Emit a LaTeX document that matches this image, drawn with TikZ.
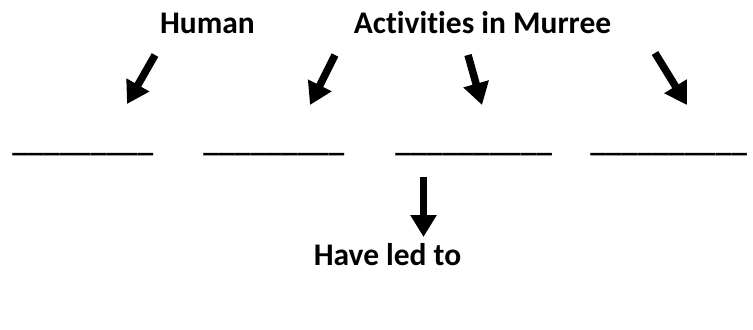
\documentclass[tikz,border=0pt]{standalone}
\usepackage{fontspec}
\setmainfont{Carlito}[Ligatures=NoCommon]
\usetikzlibrary{arrows.meta}
\tikzset{every picture/.style={font issue=\fontsize{17.9pt}{21pt}\bfseries},
         font issue/.style={execute at begin picture={#1\selectfont}},
         heading/.style={anchor=base, inner sep=0pt},
         blank/.style={anchor=base west, inner sep=0pt},
         fat arrow/.style={line width=0.15cm, -{Triangle[width=0.5cm, length=0.44cm]}}
}
\begin{document}
\begin{tikzpicture}[x=0.02cm, y=-0.02cm]
        \useasboundingbox (0, 0) rectangle (753, 329);
        \node [heading] (human) at (207.5, 33) {Human};
        \node [heading] (activities) at (482.5, 33) {Activities in Murree};
        \node [blank] (blank1) at (12, 151) {\_\_\_\_\_\_\_\_\_};
        \node [blank] (blank2) at (203, 151) {\_\_\_\_\_\_\_\_\_};
        \node [blank] (blank3) at (395, 151) {\_\_\_\_\_\_\_\_\_\_};
        \node [blank] (blank4) at (590, 151) {\_\_\_\_\_\_\_\_\_\_};
        \node [heading] (ledto) at (387.5, 265) {Have led to};
        \coordinate (tail1) at (155, 55);  \coordinate (tip1) at (127, 104);
        \coordinate (tail2) at (335, 55);  \coordinate (tip2) at (310, 105);
        \coordinate (tail3) at (468, 55);  \coordinate (tip3) at (482, 105);
        \coordinate (tail4) at (655, 53);  \coordinate (tip4) at (687, 105);
        \coordinate (tail5) at (423.5, 177); \coordinate (tip5) at (423.5, 237);
        \draw [fat arrow] (tail1) -- (tip1);
        \draw [fat arrow] (tail2) -- (tip2);
        \draw [fat arrow] (tail3) -- (tip3);
        \draw [fat arrow] (tail4) -- (tip4);
        \draw [fat arrow] (tail5) -- (tip5);
      \end{tikzpicture}
\end{document}
